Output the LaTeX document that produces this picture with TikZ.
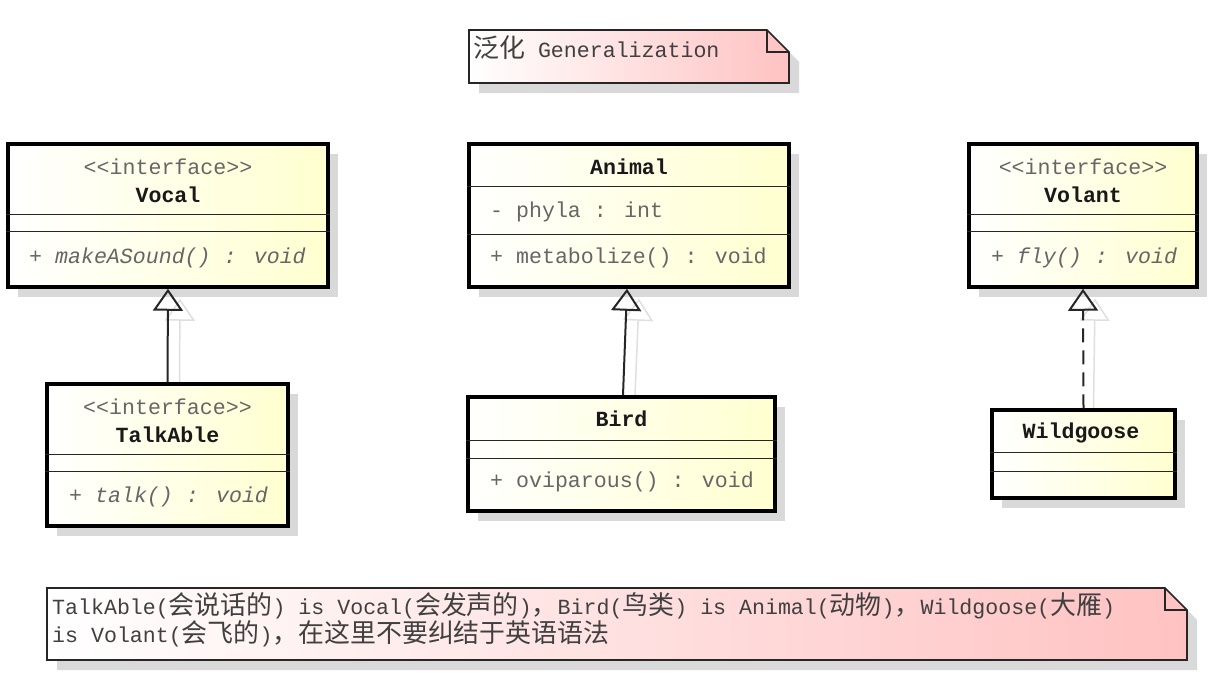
\documentclass[tikz,border=0pt]{standalone}
\usepackage{fontspec}
\usepackage{xcolor}
\usepackage{tikz}
\usetikzlibrary{arrows.meta,shadows,positioning}

\newfontfamily\umlfont{Liberation Mono}
\newfontfamily\cjk{Noto Sans CJK SC}[Scale=1.2]
\newcommand{\zh}[1]{{\cjk #1}}
\newcommand{\umlsize}{\fontsize{21.6}{28}\selectfont}

\definecolor{memgray}{HTML}{666666}
\definecolor{notepink}{HTML}{FFC2C2}
\definecolor{classyellow}{HTML}{FFFFD0}

\pgfdeclarelayer{background}
\pgfsetlayers{background,main}

\tikzset{
  boxshadow/.style={drop shadow={shadow xshift=10pt, shadow yshift=-10pt, fill=gray!30, opacity=1}},
  classbox/.style={draw, rectangle, line width=3.5pt, left color=white, right color=classyellow, boxshadow},
  notebox/.style={draw=black!85, line width=1.6pt, left color=white, right color=notepink, boxshadow},
  sepline/.style={line width=1.4pt, black!85},
  stereo/.style={inner sep=0pt, text=memgray},
  classname/.style={inner sep=0pt, font=\umlfont\umlsize\bfseries, text=black!90},
  member/.style={inner sep=0pt, anchor=west, text=memgray},
  notetext/.style={inner sep=0pt, text=black!75},
  generalize/.style={line width=2pt, black!85, -{Triangle[open, length=22pt, width=30pt, line width=2pt]}},
  realize/.style={generalize, dash pattern=on 14pt off 8pt},
  shadowlink/.style={line width=1.5pt, gray!25, -{Triangle[open, length=22pt, width=30pt, line width=1.5pt]}}
}

\begin{document}
\begin{tikzpicture}[x=1pt, y=-1pt, font=\umlfont\umlsize]
\useasboundingbox (0,0) rectangle (1226,678);

% notes
\path[notebox] (469,30) -- (767,30) -- (789,52) -- (789,83) -- (469,83) -- cycle;
\draw[black!85, line width=1.6pt] (767,30) -- (767,52) -- (789,52);
\node[notetext, anchor=west] (title) at (473,48) {\zh{泛化} Generalization};

\path[notebox] (47,588) -- (1165,588) -- (1187,610) -- (1187,660) -- (47,660) -- cycle;
\draw[black!85, line width=1.6pt] (1165,588) -- (1165,610) -- (1187,610);
\node[notetext, anchor=west, align=left] (remark) at (52,620)
  {TalkAble(\zh{会说话的}) is Vocal(\zh{会发声的})\zh{，}Bird(\zh{鸟类}) is Animal(\zh{动物})\zh{，}Wildgoose(\zh{大雁})\\
   is Volant(\zh{会飞的})\zh{，在这里不要纠结于英语语法}};

% classes
\node[classbox, minimum width=320, minimum height=143] (vocal) at (168,215.5) {};
\draw[sepline] ([yshift=-72pt]vocal.north west) -- ([yshift=-72pt]vocal.north east);
\draw[sepline] ([yshift=-89pt]vocal.north west) -- ([yshift=-89pt]vocal.north east);
\node[stereo] (vocal-st) at (168,167) {<<interface>>};
\node[classname] (vocal-name) at (168,195) {Vocal};
\node[member] (vocal-op) at (29,258) {\itshape + makeASound() : void};

\node[classbox, minimum width=320, minimum height=143] (animal) at (629,215.5) {};
\draw[sepline] ([yshift=-44pt]animal.north west) -- ([yshift=-44pt]animal.north east);
\draw[sepline] ([yshift=-92pt]animal.north west) -- ([yshift=-92pt]animal.north east);
\node[classname] (animal-name) at (629,167) {Animal};
\node[member] (animal-attr) at (490,212) {- phyla : int};
\node[member] (animal-op) at (490,258) {+ metabolize() : void};

\node[classbox, minimum width=228, minimum height=143] (volant) at (1083,215.5) {};
\draw[sepline] ([yshift=-72pt]volant.north west) -- ([yshift=-72pt]volant.north east);
\draw[sepline] ([yshift=-89pt]volant.north west) -- ([yshift=-89pt]volant.north east);
\node[stereo] (volant-st) at (1083,167) {<<interface>>};
\node[classname] (volant-name) at (1083,195) {Volant};
\node[member] (volant-op) at (991,258) {\itshape + fly() : void};

\node[classbox, minimum width=241, minimum height=142] (talkable) at (167.5,455) {};
\draw[sepline] ([yshift=-72pt]talkable.north west) -- ([yshift=-72pt]talkable.north east);
\draw[sepline] ([yshift=-89pt]talkable.north west) -- ([yshift=-89pt]talkable.north east);
\node[stereo] (talkable-st) at (167.5,407) {<<interface>>};
\node[classname] (talkable-name) at (167.5,435) {TalkAble};
\node[member] (talkable-op) at (69,497) {\itshape + talk() : void};

\node[classbox, minimum width=307, minimum height=114] (bird) at (621.5,454) {};
\draw[sepline] ([yshift=-45pt]bird.north west) -- ([yshift=-45pt]bird.north east);
\draw[sepline] ([yshift=-63pt]bird.north west) -- ([yshift=-63pt]bird.north east);
\node[classname] (bird-name) at (621.5,419) {Bird};
\node[member] (bird-op) at (490,482) {+ oviparous() : void};

\node[classbox, minimum width=183, minimum height=88] (wildgoose) at (1083.5,454) {};
\draw[sepline] ([yshift=-44pt]wildgoose.north west) -- ([yshift=-44pt]wildgoose.north east);
\draw[sepline] ([yshift=-63pt]wildgoose.north west) -- ([yshift=-63pt]wildgoose.north east);
\node[classname] (wildgoose-name) at (1081,433) {Wildgoose};

% connector shadows
\begin{pgfonlayer}{background}
\fill[white] (0,0) rectangle (1226,678);
\draw[shadowlink] ([xshift=12pt]talkable.north) -- ([xshift=12pt,yshift=-10pt]vocal.south);
\draw[shadowlink] ([xshift=13.5pt]bird.north) -- ([xshift=10pt,yshift=-10pt]animal.south);
\draw[shadowlink] ([xshift=10pt]wildgoose.north) -- ([xshift=12pt,yshift=-10pt]volant.south);
\end{pgfonlayer}

% connectors
\draw[generalize] (talkable.north) -- (vocal.south);
\draw[generalize] ([xshift=1.5pt]bird.north) -- ([xshift=-2pt]animal.south);
\draw[realize] (wildgoose.north) -- (volant.south);
\end{tikzpicture}
\end{document}
